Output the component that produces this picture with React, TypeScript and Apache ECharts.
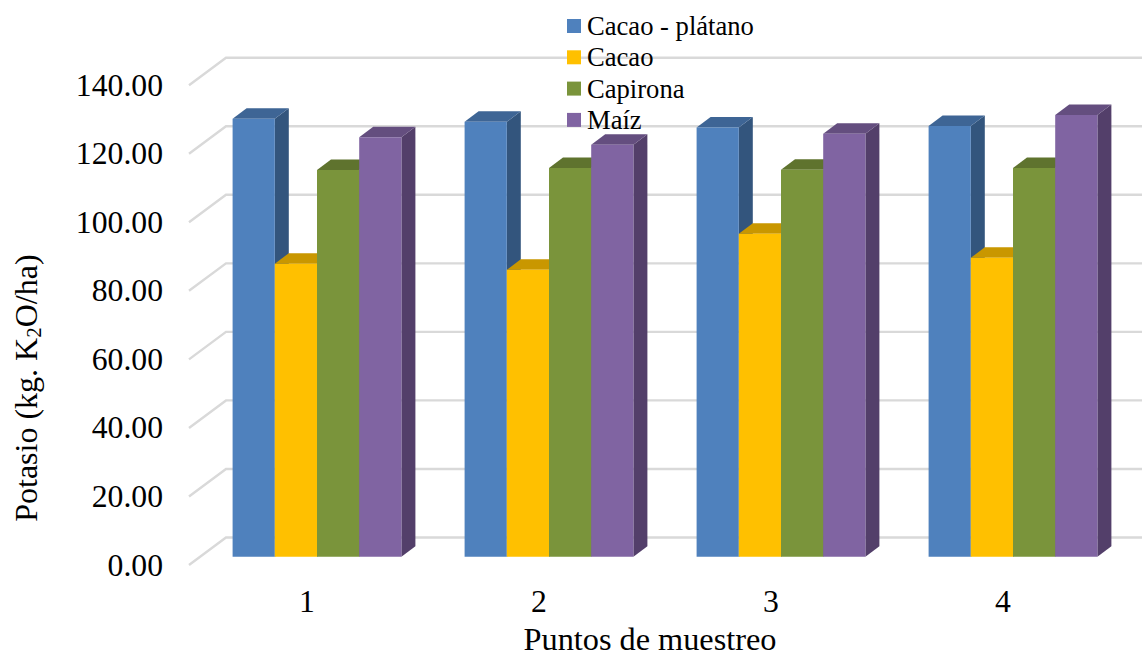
import React, { useEffect, useRef } from "react";
import * as echarts from "echarts";

const categories = ["1", "2", "3", "4"];
const seriesNames = ["Cacao - plátano", "Cacao", "Capirona", "Maíz"];
const cacaoPlatano = [127.8, 126.9, 125.2, 125.7];
const cacao = [85.5, 83.7, 94.2, 87.2];
const capirona = [112.8, 113.4, 112.9, 113.4];
const maiz = [122.4, 120.2, 123.4, 128.9];
const seriesValues = [cacaoPlatano, cacao, capirona, maiz];
const frontColors = ["#4F81BD", "#FFC000", "#7A943B", "#8064A2"];
const topColors = ["#3E6595", "#C99700", "#5F732E", "#644E7F"];
const sideColors = ["#33557D", "#A87F00", "#4F6026", "#533F6A"];
const ticks = [0, 20, 40, 60, 80, 100, 120, 140];

const FONT = "'Liberation Serif', 'Times New Roman', serif";
const WALL_DX = 37;
const WALL_DY = 27.5;
const BAR_SHIFT_X = 12;
const BAR_SHIFT_Y = 8.3;
const BAR_W = 42.2;
const DEPTH_X = 14;
const DEPTH_Y = 10.5;

export default function App() {
  const ref = useRef<HTMLDivElement>(null);
  useEffect(() => {
    const chart = echarts.init(ref.current!, null, { renderer: "svg" });
    const wall = {
      type: "custom",
      name: "wall",
      silent: true,
      z: 1,
      encode: { x: 0, y: 1 },
      data: ticks.map((t) => [0, t]),
      renderItem: (_p: any, api: any) => {
        const c = api.coord([0, api.value(1)]);
        const band = api.size([1, 0])[0];
        const x0 = c[0] - band / 2;
        return {
          type: "polyline",
          shape: {
            points: [
              [x0, c[1]],
              [x0 + WALL_DX, c[1] - WALL_DY],
              [x0 + WALL_DX + band * categories.length, c[1] - WALL_DY],
            ],
          },
          style: { stroke: "#D9D9D9", lineWidth: 2.4, fill: "none" },
        };
      },
    };
    const bars = seriesNames.map((name, s) => ({
      type: "custom",
      name,
      silent: true,
      z: 2,
      itemStyle: { color: frontColors[s] },
      encode: { x: 0, y: 1 },
      data: seriesValues[s].map((v, i) => [i, v]),
      renderItem: (_p: any, api: any) => {
        const top = api.coord([api.value(0), api.value(1)]);
        const base = api.coord([api.value(0), 0]);
        const x0 = top[0] + BAR_SHIFT_X + (s - 2) * BAR_W;
        const x1 = x0 + BAR_W;
        const yT = top[1] - BAR_SHIFT_Y;
        const yB = base[1] - BAR_SHIFT_Y;
        return {
          type: "group",
          children: [
            {
              type: "polygon",
              shape: { points: [[x1, yT], [x1 + DEPTH_X, yT - DEPTH_Y], [x1 + DEPTH_X, yB - DEPTH_Y], [x1, yB]] },
              style: { fill: sideColors[s] },
            },
            {
              type: "polygon",
              shape: { points: [[x0, yT], [x0 + DEPTH_X, yT - DEPTH_Y], [x1 + DEPTH_X, yT - DEPTH_Y], [x1, yT]] },
              style: { fill: topColors[s] },
            },
            {
              type: "rect",
              shape: { x: x0, y: yT, width: BAR_W, height: yB - yT },
              style: { fill: frontColors[s] },
            },
          ],
        };
      },
    }));
    chart.setOption({
      animation: false,
      backgroundColor: "#fff",
      textStyle: { fontFamily: FONT, color: "#000" },
      grid: { left: 189, top: 85.2, width: 928, height: 479.8, containLabel: false, outerBoundsMode: "none" },
      legend: {
        orient: "vertical",
        left: 567,
        top: 12,
        padding: 0,
        itemWidth: 14,
        itemHeight: 14,
        itemGap: 3.3,
        selectedMode: false,
        data: seriesNames.map((name) => ({ name, icon: "rect" })),
        textStyle: { fontFamily: FONT, fontSize: 26.6, color: "#000", padding: [0, 0, 0, 1], lineHeight: 28 },
      },
      xAxis: {
        type: "category",
        data: categories,
        axisLine: { show: false },
        axisTick: { show: false },
        axisLabel: { fontFamily: FONT, fontSize: 31.7, color: "#000", margin: 20, padding: [0, 0, 0, 4] },
        name: "Puntos de muestreo",
        nameLocation: "middle",
        nameGap: 63,
        nameTextStyle: { fontFamily: FONT, fontSize: 32.3, color: "#000", lineHeight: 22, padding: [0, 6, 0, 0] },
      },
      yAxis: {
        type: "value",
        min: 0,
        max: 140,
        interval: 20,
        splitLine: { show: false },
        axisLine: { show: false },
        axisTick: { show: false },
        axisLabel: {
          fontFamily: FONT,
          fontSize: 31.7,
          color: "#000",
          margin: 26,
          formatter: (v: number) => v.toFixed(2),
        },
        name: "{a|Potasio (kg. K}{s|2}{a|O/ha)}",
        nameLocation: "middle",
        nameGap: 145,
        nameTextStyle: {
          fontFamily: FONT,
          padding: [0, 126, 0, 0],
          rich: {
            a: { fontFamily: FONT, fontSize: 32, color: "#000", lineHeight: 36 },
            s: { fontFamily: FONT, fontSize: 21, color: "#000", lineHeight: 21, verticalAlign: "bottom" },
          },
        },
      },
      series: [wall, ...bars],
    });
    return () => chart.dispose();
  }, []);
  return (
    <div
      ref={ref}
      style={{ position: "fixed", left: 0, top: 0, width: 1142, height: 652, background: "#fff" }}
    />
  );
}
